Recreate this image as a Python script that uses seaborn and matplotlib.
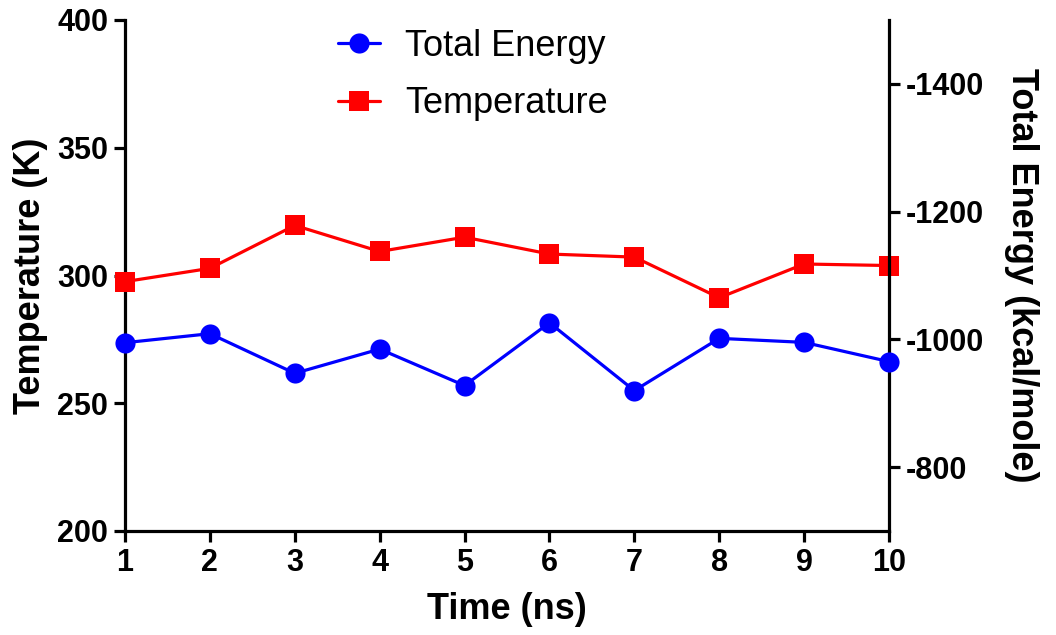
import matplotlib
matplotlib.use("Agg")
import matplotlib.pyplot as plt
import seaborn as sns
import pandas as pd

time_ns = [1, 2, 3, 4, 5, 6, 7, 8, 9, 10]
temperature = [297.6, 302.8, 319.6, 309.4, 315.0, 308.4, 307.2, 291.3, 304.5, 303.9]
total_energy = [-994.8, -1008.9, -946.9, -984.8, -927.7, -1026.0, -919.8, -1001.6, -995.3, -965.2]
temp_ticks = [200, 250, 300, 350, 400]
energy_ticks = [-1400, -1200, -1000, -800]

sns.set_style("ticks")
plt.rcParams['font.family'] = ['Liberation Sans', 'DejaVu Sans']
plt.rcParams.update({
    "axes.unicode_minus": False,
    "text.color": "black",
    "axes.labelcolor": "black",
    "axes.edgecolor": "black",
    "xtick.color": "black",
    "ytick.color": "black",
})

df = pd.DataFrame({"Time": time_ns, "Temperature": temperature, "Energy": total_energy})

fig = plt.figure(figsize=(10.56, 6.35), dpi=100)
ax = fig.add_axes([125/1056, 1-531/635, (889-125)/1056, (531-20)/635])
ax2 = ax.twinx()

lw = 2.3
sns.lineplot(data=df, x="Time", y="Temperature", ax=ax, color="#ff0000", marker="s",
             markersize=14, markeredgewidth=0, linewidth=lw, label="Temperature",
             clip_on=False, zorder=5, legend=False)
sns.lineplot(data=df, x="Time", y="Energy", ax=ax2, color="#0000ff", marker="o",
             markersize=14.5, markeredgewidth=0, linewidth=lw, label="Total Energy",
             clip_on=False, zorder=5, legend=False)

ax.set_xlim(1, 10)
ax.set_xticks(time_ns)
ax.set_ylim(200, 400)
ax.set_yticks(temp_ticks)
ax2.set_ylim(-700, -1500)
ax2.set_yticks(energy_ticks)

for a in (ax, ax2):
    for s in a.spines.values():
        s.set_linewidth(2.3)
        s.set_color("black")
    a.tick_params(width=2.3, length=8, labelsize=22, pad=4, colors="black")
    for lbl in a.get_xticklabels() + a.get_yticklabels():
        lbl.set_fontweight("bold")
ax.spines['top'].set_visible(False)
ax2.spines['top'].set_visible(False)
ax.spines['right'].set_visible(False)
ax2.spines['right'].set_visible(True)
ax2.spines['left'].set_visible(False)
ax2.spines['bottom'].set_visible(False)

ax.set_xlabel("Time (ns)", fontsize=26, fontweight="bold", labelpad=10)
ax.set_ylabel("Temperature (K)", fontsize=26, fontweight="bold", labelpad=7)
ax2.set_ylabel("Total Energy (kcal/mole)", fontsize=26, fontweight="bold",
               rotation=270, labelpad=40)

h1, l1 = ax.get_legend_handles_labels()
h2, l2 = ax2.get_legend_handles_labels()
leg = ax2.legend(h2 + h1, l2 + l1, loc="upper left",
                 bbox_to_anchor=(338/1056, 1-29/635), bbox_transform=fig.transFigure,
                 frameon=False, fontsize=26, handlelength=1.15, handletextpad=0.7,
                 labelspacing=0.62, borderpad=0, borderaxespad=0)

fig.savefig("out.png", dpi=100)
